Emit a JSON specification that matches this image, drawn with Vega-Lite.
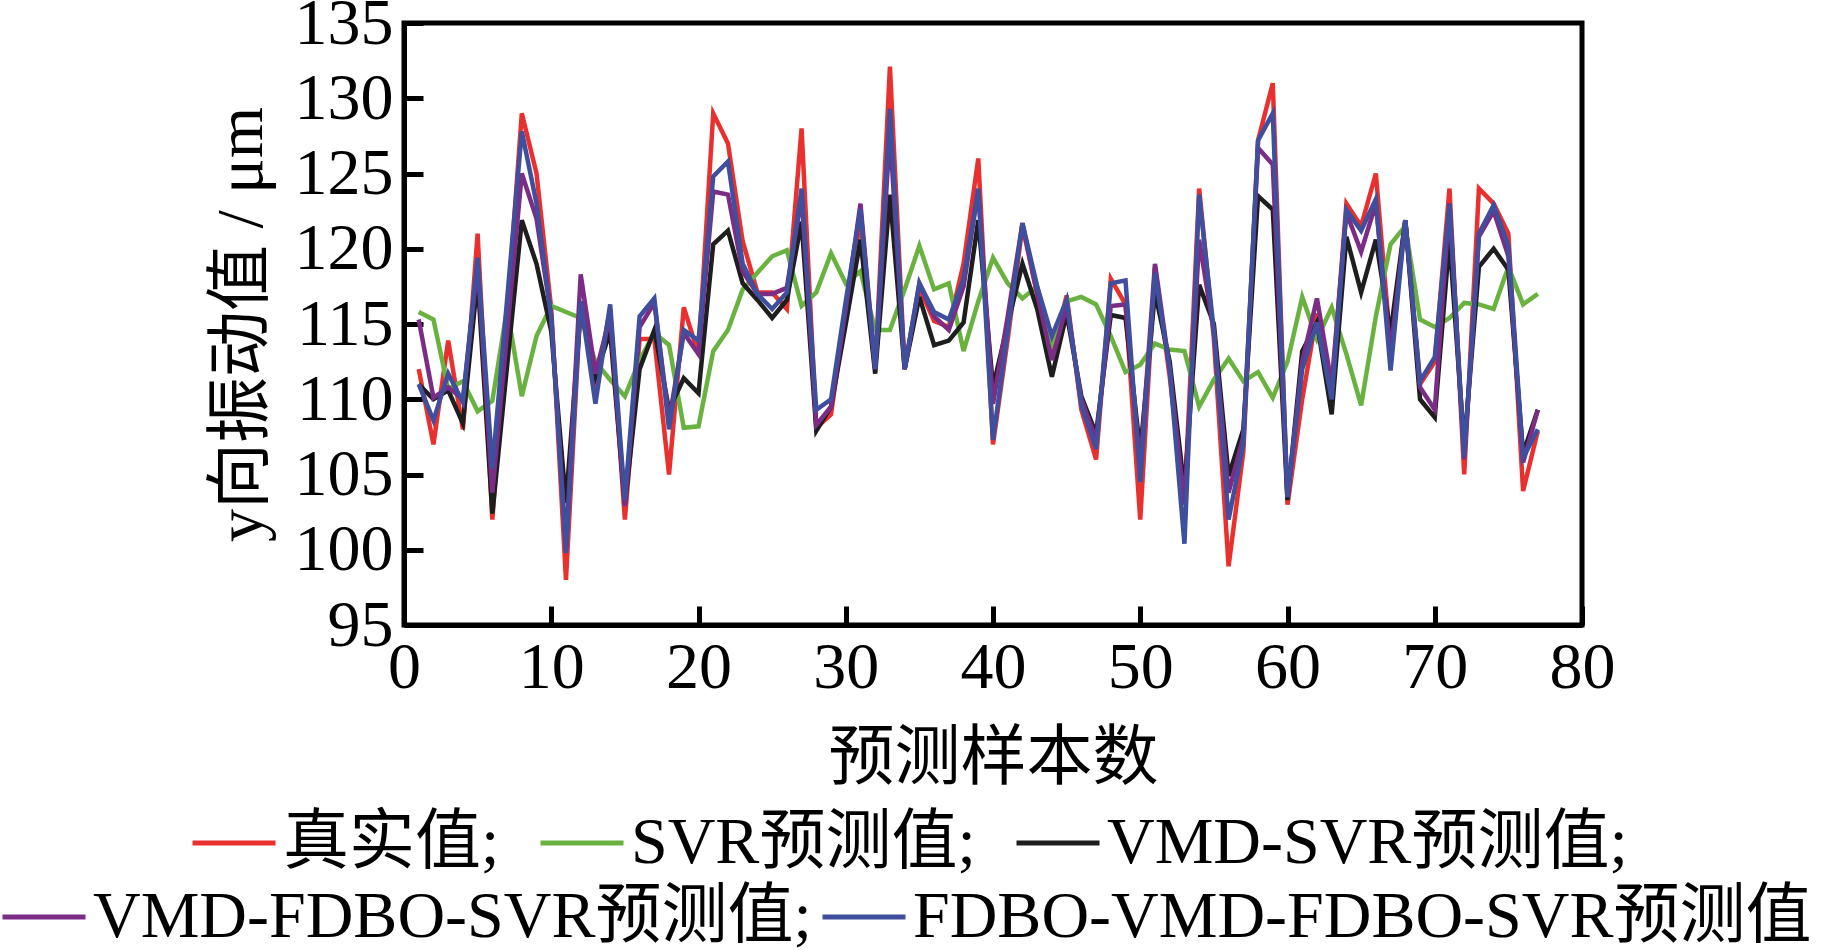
{
  "$schema": "https://vega.github.io/schema/vega-lite/v6.json",
  "autosize": {"type": "none"},
  "padding": {"left": 404, "top": 23, "right": 240, "bottom": 325},
  "width": 1178,
  "height": 602,
  "background": "white",
  "config": {
    "font": "Liberation Serif, Noto Sans CJK SC",
    "view": {"stroke": "black", "strokeWidth": 5},
    "axis": {
      "grid": false,
      "domainColor": "black",
      "domainWidth": 5,
      "tickColor": "black",
      "tickWidth": 5,
      "tickSize": -19,
      "labelFont": "Liberation Serif, Noto Sans CJK SC",
      "labelFontSize": 66,
      "labelColor": "black",
      "titleFont": "Liberation Serif, Noto Sans CJK SC",
      "titleFontSize": 66,
      "titleFontWeight": "normal",
      "titleColor": "black",
      "labelOverlap": false,
      "labelFlush": false
    },
    "legend": {
      "labelFont": "Liberation Serif, Noto Sans CJK SC",
      "labelFontSize": 66,
      "labelColor": "black",
      "symbolType": "stroke",
      "symbolSize": 6889,
      "symbolStrokeWidth": 5,
      "labelOffset": 5,
      "padding": 0,
      "labelLimit": 0
    }
  },
  "data": {
    "values": [
      {"n": 1, "真实值;": 112, "SVR预测值;": 115.8, "VMD-SVR预测值;": 111, "VMD-FDBO-SVR预测值;": 115.3, "FDBO-VMD-FDBO-SVR预测值": 111},
      {"n": 2, "真实值;": 107, "SVR预测值;": 115.3, "VMD-SVR预测值;": 110, "VMD-FDBO-SVR预测值;": 110.1, "FDBO-VMD-FDBO-SVR预测值": 108.6},
      {"n": 3, "真实值;": 113.9, "SVR预测值;": 110.7, "VMD-SVR预测值;": 110.6, "VMD-FDBO-SVR预测值;": 110.8, "FDBO-VMD-FDBO-SVR预测值": 111.7},
      {"n": 4, "真实值;": 108, "SVR预测值;": 111.2, "VMD-SVR预测值;": 108.4, "VMD-FDBO-SVR预测值;": 110, "FDBO-VMD-FDBO-SVR预测值": 109.8},
      {"n": 5, "真实值;": 121, "SVR预测值;": 109.2, "VMD-SVR预测值;": 118, "VMD-FDBO-SVR预测值;": 119, "FDBO-VMD-FDBO-SVR预测值": 119.4},
      {"n": 6, "真实值;": 102, "SVR预测值;": 109.9, "VMD-SVR预测值;": 102.4, "VMD-FDBO-SVR预测值;": 103.8, "FDBO-VMD-FDBO-SVR预测值": 105.4},
      {"n": 7, "真实值;": 115.5, "SVR预测值;": 116, "VMD-SVR预测值;": 112.2, "VMD-FDBO-SVR预测值;": 114.4, "FDBO-VMD-FDBO-SVR预测值": 116.6},
      {"n": 8, "真实值;": 129, "SVR预测值;": 110.2, "VMD-SVR预测值;": 121.9, "VMD-FDBO-SVR预测值;": 125, "FDBO-VMD-FDBO-SVR预测值": 127.8},
      {"n": 9, "真实值;": 125, "SVR预测值;": 114.2, "VMD-SVR预测值;": 119, "VMD-FDBO-SVR预测值;": 122, "FDBO-VMD-FDBO-SVR预测值": 123},
      {"n": 10, "真实值;": 116, "SVR预测值;": 116.2, "VMD-SVR预测值;": 114.5, "VMD-FDBO-SVR预测值;": 115.5, "FDBO-VMD-FDBO-SVR预测值": 115.5},
      {"n": 11, "真实值;": 98, "SVR预测值;": 115.8, "VMD-SVR预测值;": 103.1, "VMD-FDBO-SVR预测值;": 100.2, "FDBO-VMD-FDBO-SVR预测值": 99.8},
      {"n": 12, "真实值;": 116.5, "SVR预测值;": 115.4, "VMD-SVR预测值;": 116, "VMD-FDBO-SVR预测值;": 118.3, "FDBO-VMD-FDBO-SVR预测值": 116.5},
      {"n": 13, "真实值;": 110.8, "SVR预测值;": 112.5, "VMD-SVR预测值;": 111.5, "VMD-FDBO-SVR预测值;": 111.7, "FDBO-VMD-FDBO-SVR预测值": 109.7},
      {"n": 14, "真实值;": 116, "SVR预测值;": 111.3, "VMD-SVR预测值;": 114.5, "VMD-FDBO-SVR预测值;": 115.5, "FDBO-VMD-FDBO-SVR预测值": 116.3},
      {"n": 15, "真实值;": 102, "SVR预测值;": 110.2, "VMD-SVR预测值;": 103, "VMD-FDBO-SVR预测值;": 102.9, "FDBO-VMD-FDBO-SVR预测值": 103.3},
      {"n": 16, "真实值;": 114, "SVR预测值;": 112.6, "VMD-SVR预测值;": 112, "VMD-FDBO-SVR预测值;": 114.8, "FDBO-VMD-FDBO-SVR预测值": 115.5},
      {"n": 17, "真实值;": 114, "SVR预测值;": 114.4, "VMD-SVR预测值;": 114.6, "VMD-FDBO-SVR预测值;": 116.4, "FDBO-VMD-FDBO-SVR预测值": 116.7},
      {"n": 18, "真实值;": 105, "SVR预测值;": 113.6, "VMD-SVR预测值;": 109.3, "VMD-FDBO-SVR预测值;": 108.6, "FDBO-VMD-FDBO-SVR预测值": 108},
      {"n": 19, "真实值;": 116.1, "SVR预测值;": 108.1, "VMD-SVR预测值;": 111.4, "VMD-FDBO-SVR预测值;": 114.4, "FDBO-VMD-FDBO-SVR预测值": 114.6},
      {"n": 20, "真实值;": 113, "SVR预测值;": 108.2, "VMD-SVR预测值;": 110.4, "VMD-FDBO-SVR预测值;": 113, "FDBO-VMD-FDBO-SVR预测值": 113.9},
      {"n": 21, "真实值;": 129, "SVR预测值;": 113.2, "VMD-SVR预测值;": 120.3, "VMD-FDBO-SVR预测值;": 123.8, "FDBO-VMD-FDBO-SVR预测值": 124.8},
      {"n": 22, "真实值;": 127, "SVR预测值;": 114.6, "VMD-SVR预测值;": 121.2, "VMD-FDBO-SVR预测值;": 123.6, "FDBO-VMD-FDBO-SVR预测值": 125.8},
      {"n": 23, "真实值;": 120.5, "SVR预测值;": 117.3, "VMD-SVR预测值;": 117.7, "VMD-FDBO-SVR预测值;": 118.5, "FDBO-VMD-FDBO-SVR预测值": 119},
      {"n": 24, "真实值;": 117.1, "SVR预测值;": 118.4, "VMD-SVR预测值;": 116.6, "VMD-FDBO-SVR预测值;": 117, "FDBO-VMD-FDBO-SVR预测值": 117},
      {"n": 25, "真实值;": 117.1, "SVR预测值;": 119.5, "VMD-SVR预测值;": 115.4, "VMD-FDBO-SVR预测值;": 117, "FDBO-VMD-FDBO-SVR预测值": 116},
      {"n": 26, "真实值;": 116, "SVR预测值;": 119.9, "VMD-SVR预测值;": 116.6, "VMD-FDBO-SVR预测值;": 117.4, "FDBO-VMD-FDBO-SVR预测值": 117.1},
      {"n": 27, "真实值;": 128, "SVR预测值;": 116.2, "VMD-SVR预测值;": 121.8, "VMD-FDBO-SVR预测值;": 123.5, "FDBO-VMD-FDBO-SVR预测值": 124},
      {"n": 28, "真实值;": 108.1, "SVR预测值;": 117.1, "VMD-SVR预测值;": 107.9, "VMD-FDBO-SVR预测值;": 108.3, "FDBO-VMD-FDBO-SVR预测值": 109.3},
      {"n": 29, "真实值;": 109, "SVR预测值;": 119.7, "VMD-SVR预测值;": 109.5, "VMD-FDBO-SVR预测值;": 109.5, "FDBO-VMD-FDBO-SVR预测值": 110},
      {"n": 30, "真实值;": 116, "SVR预测值;": 117.7, "VMD-SVR预测值;": 115, "VMD-FDBO-SVR预测值;": 116, "FDBO-VMD-FDBO-SVR预测值": 116.5},
      {"n": 31, "真实值;": 121.9, "SVR预测值;": 118.5, "VMD-SVR预测值;": 120.6, "VMD-FDBO-SVR预测值;": 123, "FDBO-VMD-FDBO-SVR预测值": 122.6},
      {"n": 32, "真实值;": 112, "SVR预测值;": 114.6, "VMD-SVR预测值;": 111.7, "VMD-FDBO-SVR预测值;": 112, "FDBO-VMD-FDBO-SVR预测值": 112},
      {"n": 33, "真实值;": 132.1, "SVR预测值;": 114.6, "VMD-SVR预测值;": 123.6, "VMD-FDBO-SVR预测值;": 127.7, "FDBO-VMD-FDBO-SVR预测值": 129.3},
      {"n": 34, "真实值;": 112, "SVR预测值;": 117.3, "VMD-SVR预测值;": 112, "VMD-FDBO-SVR预测值;": 112, "FDBO-VMD-FDBO-SVR预测值": 112},
      {"n": 35, "真实值;": 117.4, "SVR预测值;": 120.2, "VMD-SVR预测值;": 116.8, "VMD-FDBO-SVR预测值;": 117.7, "FDBO-VMD-FDBO-SVR预测值": 117.7},
      {"n": 36, "真实值;": 115.2, "SVR预测值;": 117.3, "VMD-SVR预测值;": 113.6, "VMD-FDBO-SVR预测值;": 115.5, "FDBO-VMD-FDBO-SVR预测值": 115.8},
      {"n": 37, "真实值;": 114.8, "SVR预测值;": 117.7, "VMD-SVR预测值;": 113.9, "VMD-FDBO-SVR预测值;": 114.6, "FDBO-VMD-FDBO-SVR预测值": 115.3},
      {"n": 38, "真实值;": 119, "SVR预测值;": 113.2, "VMD-SVR预测值;": 115.1, "VMD-FDBO-SVR预测值;": 117.5, "FDBO-VMD-FDBO-SVR预测值": 118},
      {"n": 39, "真实值;": 126, "SVR预测值;": 116.5, "VMD-SVR预测值;": 121.9, "VMD-FDBO-SVR预测值;": 123.9, "FDBO-VMD-FDBO-SVR预测值": 124},
      {"n": 40, "真实值;": 107, "SVR预测值;": 119.4, "VMD-SVR预测值;": 110.8, "VMD-FDBO-SVR预测值;": 109.7, "FDBO-VMD-FDBO-SVR预测值": 107.3},
      {"n": 41, "真实值;": 114, "SVR预测值;": 117.7, "VMD-SVR预测值;": 115, "VMD-FDBO-SVR预测值;": 115.5, "FDBO-VMD-FDBO-SVR预测值": 114.5},
      {"n": 42, "真实值;": 121.5, "SVR预测值;": 116.7, "VMD-SVR预测值;": 119, "VMD-FDBO-SVR预测值;": 121.7, "FDBO-VMD-FDBO-SVR预测值": 121.7},
      {"n": 43, "真实值;": 117, "SVR预测值;": 117.5, "VMD-SVR预测值;": 116, "VMD-FDBO-SVR预测值;": 117, "FDBO-VMD-FDBO-SVR预测值": 117.5},
      {"n": 44, "真实值;": 112.8, "SVR预测值;": 113.7, "VMD-SVR预测值;": 111.5, "VMD-FDBO-SVR预测值;": 112.6, "FDBO-VMD-FDBO-SVR预测值": 114.2},
      {"n": 45, "真实值;": 116.9, "SVR预测值;": 116.5, "VMD-SVR预测值;": 115.7, "VMD-FDBO-SVR预测值;": 116.2, "FDBO-VMD-FDBO-SVR预测值": 116.6},
      {"n": 46, "真实值;": 109.3, "SVR预测值;": 116.8, "VMD-SVR预测值;": 110.2, "VMD-FDBO-SVR预测值;": 110, "FDBO-VMD-FDBO-SVR预测值": 109.6},
      {"n": 47, "真实值;": 106, "SVR预测值;": 116.3, "VMD-SVR预测值;": 107.7, "VMD-FDBO-SVR预测值;": 107.3, "FDBO-VMD-FDBO-SVR预测值": 106.7},
      {"n": 48, "真实值;": 118, "SVR预测值;": 114.2, "VMD-SVR预测值;": 115.6, "VMD-FDBO-SVR预测值;": 116.2, "FDBO-VMD-FDBO-SVR预测值": 117.7},
      {"n": 49, "真实值;": 116.3, "SVR预测值;": 111.8, "VMD-SVR预测值;": 115.4, "VMD-FDBO-SVR预测值;": 116.3, "FDBO-VMD-FDBO-SVR预测值": 117.9},
      {"n": 50, "真实值;": 102, "SVR预测值;": 112.3, "VMD-SVR预测值;": 106.5, "VMD-FDBO-SVR预测值;": 105.5, "FDBO-VMD-FDBO-SVR预测值": 104.5},
      {"n": 51, "真实值;": 118.8, "SVR预测值;": 113.7, "VMD-SVR预测值;": 117.1, "VMD-FDBO-SVR预测值;": 119, "FDBO-VMD-FDBO-SVR预测值": 118.4},
      {"n": 52, "真实值;": 111.5, "SVR预测值;": 113.3, "VMD-SVR预测值;": 112.5, "VMD-FDBO-SVR预测值;": 112, "FDBO-VMD-FDBO-SVR预测值": 112},
      {"n": 53, "真实值;": 103, "SVR预测值;": 113.2, "VMD-SVR预测值;": 104, "VMD-FDBO-SVR预测值;": 103, "FDBO-VMD-FDBO-SVR预测值": 100.4},
      {"n": 54, "真实值;": 124, "SVR预测值;": 109.5, "VMD-SVR预测值;": 117.6, "VMD-FDBO-SVR预测值;": 120.6, "FDBO-VMD-FDBO-SVR预测值": 123.6},
      {"n": 55, "真实值;": 114, "SVR预测值;": 111.3, "VMD-SVR预测值;": 115, "VMD-FDBO-SVR预测值;": 114.5, "FDBO-VMD-FDBO-SVR预测值": 114.5},
      {"n": 56, "真实值;": 98.9, "SVR预测值;": 112.7, "VMD-SVR预测值;": 104.9, "VMD-FDBO-SVR预测值;": 103.8, "FDBO-VMD-FDBO-SVR预测值": 102},
      {"n": 57, "真实值;": 106.5, "SVR预测值;": 111.2, "VMD-SVR预测值;": 108, "VMD-FDBO-SVR预测值;": 107.5, "FDBO-VMD-FDBO-SVR预测值": 107},
      {"n": 58, "真实值;": 127.2, "SVR预测值;": 111.8, "VMD-SVR预测值;": 123.5, "VMD-FDBO-SVR预测值;": 126.7, "FDBO-VMD-FDBO-SVR预测值": 127.2},
      {"n": 59, "真实值;": 131, "SVR预测值;": 110.1, "VMD-SVR预测值;": 122.6, "VMD-FDBO-SVR预测值;": 125.6, "FDBO-VMD-FDBO-SVR预测值": 129},
      {"n": 60, "真实值;": 103, "SVR预测值;": 112.5, "VMD-SVR预测值;": 103.3, "VMD-FDBO-SVR预测值;": 103.5, "FDBO-VMD-FDBO-SVR预测值": 103.5},
      {"n": 61, "真实值;": 110, "SVR预测值;": 116.8, "VMD-SVR预测值;": 113.2, "VMD-FDBO-SVR预测值;": 112.5, "FDBO-VMD-FDBO-SVR预测值": 112},
      {"n": 62, "真实值;": 115.7, "SVR预测值;": 114, "VMD-SVR预测值;": 115.1, "VMD-FDBO-SVR预测值;": 116.7, "FDBO-VMD-FDBO-SVR预测值": 115.1},
      {"n": 63, "真实值;": 110.5, "SVR预测值;": 116.1, "VMD-SVR预测值;": 109, "VMD-FDBO-SVR预测值;": 111, "FDBO-VMD-FDBO-SVR预测值": 110},
      {"n": 64, "真实值;": 123, "SVR预测值;": 113, "VMD-SVR预测值;": 120.8, "VMD-FDBO-SVR预测值;": 122.4, "FDBO-VMD-FDBO-SVR预测值": 122.6},
      {"n": 65, "真实值;": 121.5, "SVR预测值;": 109.6, "VMD-SVR预测值;": 117.1, "VMD-FDBO-SVR预测值;": 119.8, "FDBO-VMD-FDBO-SVR预测值": 121.2},
      {"n": 66, "真实值;": 125, "SVR预测值;": 115.5, "VMD-SVR预测值;": 120.6, "VMD-FDBO-SVR预测值;": 123, "FDBO-VMD-FDBO-SVR预测值": 123.3},
      {"n": 67, "真实值;": 113.5, "SVR预测值;": 120.3, "VMD-SVR预测值;": 114.4, "VMD-FDBO-SVR预测值;": 113, "FDBO-VMD-FDBO-SVR预测值": 111.9},
      {"n": 68, "真实值;": 121.9, "SVR预测值;": 121.5, "VMD-SVR预测值;": 121.9, "VMD-FDBO-SVR预测值;": 121.9, "FDBO-VMD-FDBO-SVR预测值": 121.9},
      {"n": 69, "真实值;": 111, "SVR预测值;": 115.3, "VMD-SVR预测值;": 110, "VMD-FDBO-SVR预测值;": 110.8, "FDBO-VMD-FDBO-SVR预测值": 111.2},
      {"n": 70, "真实值;": 112.5, "SVR预测值;": 114.8, "VMD-SVR预测值;": 108.8, "VMD-FDBO-SVR预测值;": 109.3, "FDBO-VMD-FDBO-SVR预测值": 112.8},
      {"n": 71, "真实值;": 124, "SVR预测值;": 115.4, "VMD-SVR预测值;": 120.6, "VMD-FDBO-SVR预测值;": 123, "FDBO-VMD-FDBO-SVR预测值": 123},
      {"n": 72, "真实值;": 105, "SVR预测值;": 116.4, "VMD-SVR预测值;": 106.9, "VMD-FDBO-SVR预测值;": 106, "FDBO-VMD-FDBO-SVR预测值": 106.2},
      {"n": 73, "真实值;": 124, "SVR预测值;": 116.3, "VMD-SVR预测值;": 118.8, "VMD-FDBO-SVR预测值;": 120.8, "FDBO-VMD-FDBO-SVR预测值": 121},
      {"n": 74, "真实值;": 123, "SVR预测值;": 116, "VMD-SVR预测值;": 120, "VMD-FDBO-SVR预测值;": 122.5, "FDBO-VMD-FDBO-SVR预测值": 122.9},
      {"n": 75, "真实值;": 121, "SVR预测值;": 118.8, "VMD-SVR预测值;": 118.6, "VMD-FDBO-SVR预测值;": 119.5, "FDBO-VMD-FDBO-SVR预测值": 120.2},
      {"n": 76, "真实值;": 103.9, "SVR预测值;": 116.3, "VMD-SVR预测值;": 106.4, "VMD-FDBO-SVR预测值;": 105.8, "FDBO-VMD-FDBO-SVR预测值": 106.1},
      {"n": 77, "真实值;": 107.9, "SVR预测值;": 117, "VMD-SVR预测值;": 109.3, "VMD-FDBO-SVR预测值;": 109.3, "FDBO-VMD-FDBO-SVR预测值": 108}
    ]
  },
  "encoding": {
    "x": {
      "field": "n",
      "type": "quantitative",
      "title": "预测样本数",
      "scale": {"domain": [0, 80], "nice": false},
      "axis": {"values": [0, 10, 20, 30, 40, 50, 60, 70, 80], "labelPadding": 29, "titlePadding": 26}
    },
    "y": {
      "field": "value",
      "type": "quantitative",
      "title": "y向振动值 / μm",
      "scale": {"domain": [95, 135], "nice": false, "zero": false},
      "axis": {"values": [95, 100, 105, 110, 115, 120, 125, 130, 135], "labelPadding": 30, "titlePadding": 19}
    }
  },
  "layer": [
    {
      "transform": [
        {"fold": ["真实值;", "SVR预测值;", "VMD-SVR预测值;"], "as": ["series", "value"]}
      ],
      "mark": {"type": "line", "strokeWidth": 4.5, "clip": true},
      "encoding": {
        "color": {
          "field": "series",
          "type": "nominal",
          "sort": null,
          "scale": {
            "domain": ["真实值;", "SVR预测值;", "VMD-SVR预测值;"],
            "range": ["#e8312f", "#6ab23f", "#1e1e1e"]
          },
          "legend": {
            "title": null,
            "orient": "none",
            "direction": "horizontal",
            "columns": 3,
            "columnPadding": 30,
            "legendX": -214,
            "legendY": 776
          }
        }
      }
    },
    {
      "transform": [
        {"fold": ["VMD-FDBO-SVR预测值;", "FDBO-VMD-FDBO-SVR预测值"], "as": ["series", "value"]}
      ],
      "mark": {"type": "line", "strokeWidth": 4.5, "clip": true},
      "encoding": {
        "stroke": {
          "field": "series",
          "type": "nominal",
          "sort": null,
          "scale": {
            "domain": ["VMD-FDBO-SVR预测值;", "FDBO-VMD-FDBO-SVR预测值"],
            "range": ["#7b2d86", "#3f4e9d"]
          },
          "legend": {
            "title": null,
            "orient": "none",
            "direction": "horizontal",
            "columns": 2,
            "columnPadding": 0,
            "legendX": -404,
            "legendY": 850
          }
        }
      }
    }
  ]
}
